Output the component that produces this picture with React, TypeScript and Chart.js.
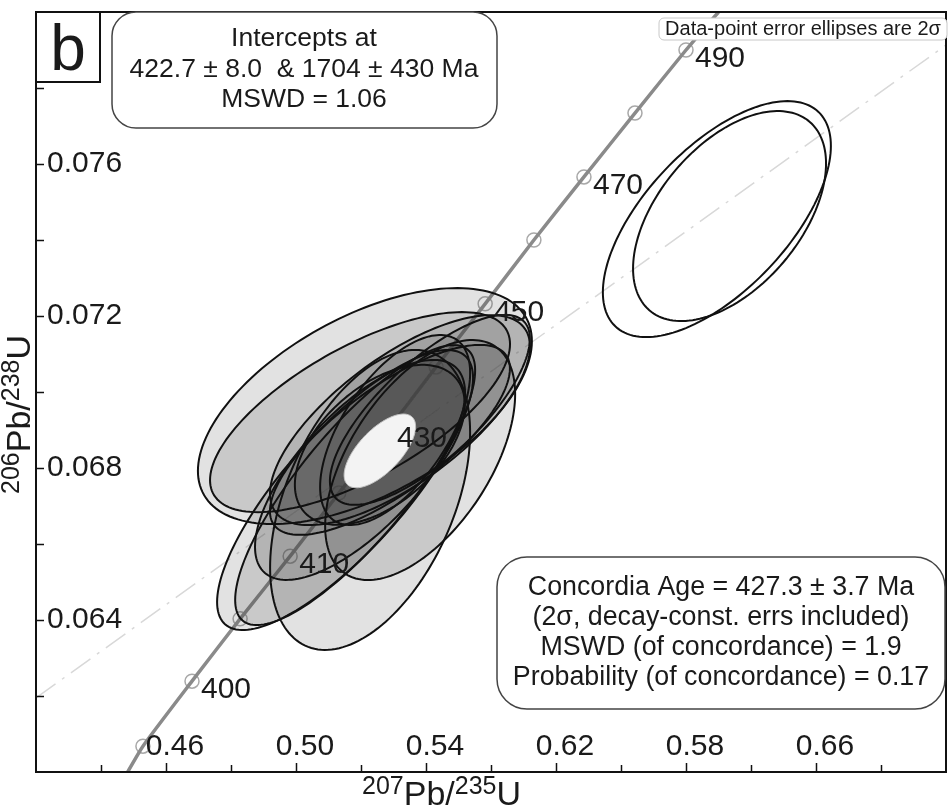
import React, { useEffect, useRef } from "react";
import { Chart, registerables } from "chart.js";

Chart.register(...registerables);

// ---------- axis ranges & ticks ----------
const xRange = [0.42, 0.7];
const yRange = [0.06, 0.08];
const xMajorTicks = [0.46, 0.5, 0.54, 0.58, 0.62, 0.66];
const xMajorLabels = ["0.46", "0.50", "0.54", "0.62", "0.58", "0.66"];
const xMinorTicks = [0.44, 0.48, 0.52, 0.56, 0.6, 0.64, 0.68];
const yMajorTicks = [0.064, 0.068, 0.072, 0.076];
const yMajorLabels = ["0.064", "0.068", "0.072", "0.076"];
const yMinorTicks = [0.062, 0.066, 0.07, 0.074, 0.078];

// ---------- concordia curve ----------
const concordiaX = [0.4482, 0.4529, 0.468, 0.4828, 0.4982, 0.5132, 0.5283, 0.5431, 0.5582, 0.5732, 0.5886, 0.6043, 0.62, 0.63];
const concordiaY = [0.06, 0.06068, 0.06239, 0.06403, 0.06568, 0.06734, 0.069, 0.07066, 0.07232, 0.074, 0.07566, 0.07734, 0.079, 0.08];

// concordia age markers
const markerX = [0.4529, 0.468, 0.4828, 0.4982, 0.5132, 0.5283, 0.5431, 0.5582, 0.5732, 0.5886, 0.6043, 0.62];
const markerY = [0.06068, 0.06239, 0.06403, 0.06568, 0.06734, 0.069, 0.07066, 0.07232, 0.074, 0.07566, 0.07734, 0.079];
const markerLabels = ["", "400", "", "410", "", "430", "", "450", "", "470", "", "490"];

// ---------- discordia (intercept) line ----------
const discordiaX = [0.42, 0.7];
const discordiaY = [0.06195, 0.07913];

// ---------- data-point error ellipses (2 sigma) ----------
const clusterX = [0.5212, 0.5197, 0.5151, 0.5182, 0.5228, 0.5382, 0.5289, 0.532, 0.5258, 0.5305, 0.5197, 0.5412];
const clusterY = [0.06963, 0.06947, 0.06742, 0.06755, 0.06716, 0.06821, 0.06874, 0.06926, 0.06861, 0.069, 0.06795, 0.06953];
const clusterSX = [0.05138, 0.04615, 0.03938, 0.03692, 0.03077, 0.02923, 0.03692, 0.04, 0.02615, 0.02308, 0.03231, 0.03077];
const clusterSY = [0.003105, 0.002632, 0.003684, 0.003684, 0.003947, 0.003158, 0.0025, 0.002763, 0.002105, 0.0025, 0.002895, 0.0025];
const clusterRho = [0.55, 0.68, 0.8, 0.82, 0.45, 0.55, 0.75, 0.7, 0.5, 0.6, 0.7, 0.75];

const outlierX = [0.6295, 0.6334];
const outlierY = [0.07455, 0.07463];
const outlierSX = [0.03508, 0.02969];
const outlierSY = [0.003105, 0.002763];
const outlierRho = [0.62, 0.5];

// concordia age ellipse
const ageEllipseX = [0.5258];
const ageEllipseY = [0.06845];
const ageEllipseSX = [0.011];
const ageEllipseSY = [0.00097];
const ageEllipseRho = [0.66];

// ---------- texts ----------
const panelLetter = "b";
const interceptLines = ["Intercepts at", "422.7 ± 8.0  & 1704 ± 430 Ma", "MSWD = 1.06"];
const concordiaLines = [
  "Concordia Age = 427.3 ± 3.7 Ma",
  "(2σ, decay-const. errs included)",
  "MSWD (of concordance) = 1.9",
  "Probability (of concordance) = 0.17",
];
const ellipseNote = "Data-point error ellipses are 2σ";
const xTitleParts: [string, boolean][] = [["207", true], ["Pb/", false], ["235", true], ["U", false]];
const yTitleParts: [string, boolean][] = [["206", true], ["Pb/", false], ["238", true], ["U", false]];

const FONT = "'Liberation Sans', Arial, Helvetica, sans-serif";

function zip(xs: number[], ys: number[]) {
  return xs.map((x, i) => ({ x, y: ys[i] }));
}

function ellipsePath(ctx: CanvasRenderingContext2D, xs: any, ys: any, cx: number, cy: number, sx: number, sy: number, rho: number) {
  const n = 160;
  const k = Math.sqrt(Math.max(0, 1 - rho * rho));
  ctx.beginPath();
  for (let i = 0; i <= n; i++) {
    const t = (i / n) * Math.PI * 2;
    const px = xs.getPixelForValue(cx + sx * Math.cos(t));
    const py = ys.getPixelForValue(cy + sy * (rho * Math.cos(t) + k * Math.sin(t)));
    if (i === 0) ctx.moveTo(px, py);
    else ctx.lineTo(px, py);
  }
  ctx.closePath();
}

function roundRect(ctx: CanvasRenderingContext2D, x: number, y: number, w: number, h: number, r: number) {
  ctx.beginPath();
  ctx.moveTo(x + r, y);
  ctx.lineTo(x + w - r, y);
  ctx.arcTo(x + w, y, x + w, y + r, r);
  ctx.lineTo(x + w, y + h - r);
  ctx.arcTo(x + w, y + h, x + w - r, y + h, r);
  ctx.lineTo(x + r, y + h);
  ctx.arcTo(x, y + h, x, y + h - r, r);
  ctx.lineTo(x, y + r);
  ctx.arcTo(x, y, x + r, y, r);
  ctx.closePath();
}

function drawSupText(ctx: CanvasRenderingContext2D, parts: [string, boolean][], x: number, y: number, main: number, sup: number, raise: number) {
  let cx = x;
  ctx.textBaseline = "alphabetic";
  ctx.textAlign = "left";
  for (const [t, isSup] of parts) {
    ctx.font = `${isSup ? sup : main}px ${FONT}`;
    ctx.fillText(t, cx, isSup ? y - raise : y);
    cx += ctx.measureText(t).width;
  }
}

const ellipsePlugin = {
  id: "ellipses",
  afterDatasetsDraw(chart: any) {
    const { ctx, chartArea, scales } = chart;
    const xs = scales.x;
    const ys = scales.y;
    ctx.save();
    ctx.beginPath();
    ctx.rect(chartArea.left, chartArea.top, chartArea.right - chartArea.left, chartArea.bottom - chartArea.top);
    ctx.clip();
    // filled cluster
    for (let i = 0; i < clusterX.length; i++) {
      ellipsePath(ctx, xs, ys, clusterX[i], clusterY[i], clusterSX[i], clusterSY[i], clusterRho[i]);
      ctx.fillStyle = "rgba(60,60,60,0.15)";
      ctx.fill();
    }
    for (let i = 0; i < clusterX.length; i++) {
      ellipsePath(ctx, xs, ys, clusterX[i], clusterY[i], clusterSX[i], clusterSY[i], clusterRho[i]);
      ctx.strokeStyle = "#111";
      ctx.lineWidth = 2;
      ctx.stroke();
    }
    // concordia age ellipse
    for (let i = 0; i < ageEllipseX.length; i++) {
      ellipsePath(ctx, xs, ys, ageEllipseX[i], ageEllipseY[i], ageEllipseSX[i], ageEllipseSY[i], ageEllipseRho[i]);
      ctx.fillStyle = "#f3f3f3";
      ctx.fill();
      ctx.strokeStyle = "#c4c4c4";
      ctx.lineWidth = 1;
      ctx.stroke();
    }
    // open ellipses
    for (let i = 0; i < outlierX.length; i++) {
      ellipsePath(ctx, xs, ys, outlierX[i], outlierY[i], outlierSX[i], outlierSY[i], outlierRho[i]);
      ctx.strokeStyle = "#111";
      ctx.lineWidth = 2;
      ctx.stroke();
    }
    ctx.restore();
  },
  afterDraw(chart: any) {
    const { ctx, chartArea, scales } = chart;
    const xs = scales.x;
    const ys = scales.y;
    const { left, right, top, bottom } = chartArea;
    ctx.save();

    // age labels along concordia
    ctx.fillStyle = "#1a1a1a";
    ctx.font = `30px ${FONT}`;
    ctx.textAlign = "left";
    ctx.textBaseline = "middle";
    for (let i = 0; i < markerX.length; i++) {
      if (!markerLabels[i]) continue;
      const px = xs.getPixelForValue(markerX[i]);
      const py = ys.getPixelForValue(markerY[i]);
      ctx.fillText(markerLabels[i], px + 9, py + 9);
    }

    // frame
    ctx.strokeStyle = "#111";
    ctx.lineWidth = 2;
    ctx.strokeRect(left, top, right - left, bottom - top);

    // ticks (inward)
    ctx.lineWidth = 1.5;
    ctx.beginPath();
    for (const v of xMajorTicks) {
      const px = Math.round(xs.getPixelForValue(v)) + 0.5;
      ctx.moveTo(px, bottom);
      ctx.lineTo(px, bottom - 9);
    }
    for (const v of xMinorTicks) {
      const px = Math.round(xs.getPixelForValue(v)) + 0.5;
      ctx.moveTo(px, bottom);
      ctx.lineTo(px, bottom - 7);
    }
    for (const v of yMajorTicks) {
      const py = Math.round(ys.getPixelForValue(v)) + 0.5;
      ctx.moveTo(left, py);
      ctx.lineTo(left + 8, py);
    }
    for (const v of yMinorTicks) {
      const py = Math.round(ys.getPixelForValue(v)) + 0.5;
      ctx.moveTo(left, py);
      ctx.lineTo(left + 8, py);
    }
    ctx.stroke();

    // tick labels (inside the frame)
    ctx.fillStyle = "#1a1a1a";
    ctx.font = `30px ${FONT}`;
    ctx.textAlign = "center";
    ctx.textBaseline = "alphabetic";
    xMajorTicks.forEach((v, i) => {
      ctx.fillText(xMajorLabels[i], xs.getPixelForValue(v) + 9, bottom - 17);
    });
    ctx.textAlign = "left";
    ctx.textBaseline = "middle";
    yMajorTicks.forEach((v, i) => {
      ctx.fillText(yMajorLabels[i], left + 11, ys.getPixelForValue(v));
    });

    // axis titles
    ctx.fillStyle = "#1a1a1a";
    drawSupText(ctx, xTitleParts, 362, 805, 34, 25, 11);
    ctx.save();
    ctx.translate(30, 494);
    ctx.rotate(-Math.PI / 2);
    drawSupText(ctx, yTitleParts, 0, 0, 34, 25, 11);
    ctx.restore();

    // panel letter box
    ctx.fillStyle = "#fff";
    ctx.fillRect(left, top, 64, 70);
    ctx.strokeStyle = "#111";
    ctx.lineWidth = 2;
    ctx.strokeRect(left, top, 64, 70);
    ctx.fillStyle = "#1a1a1a";
    ctx.font = `64px ${FONT}`;
    ctx.textAlign = "center";
    ctx.textBaseline = "alphabetic";
    ctx.fillText(panelLetter, left + 32, top + 58);

    // intercepts box
    roundRect(ctx, 112, 12, 385, 116, 24);
    ctx.fillStyle = "#fff";
    ctx.fill();
    ctx.strokeStyle = "#444";
    ctx.lineWidth = 1.5;
    ctx.stroke();
    ctx.fillStyle = "#1a1a1a";
    ctx.font = `26.5px ${FONT}`;
    ctx.textBaseline = "middle";
    interceptLines.forEach((t, i) => ctx.fillText(t, 304, 39 + i * 30.5));

    // concordia age box
    roundRect(ctx, 497, 557, 448, 152, 30);
    ctx.fillStyle = "#fff";
    ctx.fill();
    ctx.strokeStyle = "#444";
    ctx.lineWidth = 1.5;
    ctx.stroke();
    ctx.fillStyle = "#1a1a1a";
    ctx.font = `26.8px ${FONT}`;
    concordiaLines.forEach((t, i) => ctx.fillText(t, 721, 588 + i * 30));

    // ellipse note
    roundRect(ctx, 659, 18, 288, 22, 5);
    ctx.fillStyle = "#fff";
    ctx.fill();
    ctx.strokeStyle = "#c8c8c8";
    ctx.lineWidth = 1;
    ctx.stroke();
    ctx.fillStyle = "#1a1a1a";
    ctx.font = `20px ${FONT}`;
    ctx.fillText(ellipseNote, 803, 29.5);

    ctx.restore();
  },
};

export default function App() {
  const ref = useRef<HTMLCanvasElement | null>(null);
  useEffect(() => {
    document.body.style.margin = "0";
    const canvas = ref.current;
    if (!canvas) return;
    const chart = new Chart(canvas, {
      type: "scatter",
      data: {
        datasets: [
          {
            label: "discordia",
            data: zip(discordiaX, discordiaY),
            showLine: true,
            borderColor: "#d8d8d8",
            borderWidth: 1.5,
            borderDash: [24, 8, 3, 8],
            pointRadius: 0,
            fill: false,
          },
          {
            label: "concordia",
            data: zip(concordiaX, concordiaY),
            showLine: true,
            borderColor: "#8a8a8a",
            borderWidth: 3.5,
            pointRadius: 0,
            tension: 0.2,
            fill: false,
          },
          {
            label: "ages",
            data: zip(markerX, markerY),
            showLine: false,
            pointRadius: 7,
            pointBackgroundColor: "#ffffff",
            pointBorderColor: "#a8a8a8",
            pointBorderWidth: 1.5,
          },
        ],
      },
      options: {
        responsive: false,
        animation: false,
        devicePixelRatio: 1,
        layout: { autoPadding: false, padding: { left: 36, top: 12, right: 3, bottom: 35 } },
        plugins: { legend: { display: false }, tooltip: { enabled: false } },
        scales: {
          x: {
            type: "linear",
            display: false,
            min: xRange[0],
            max: xRange[1],
          },
          y: {
            type: "linear",
            display: false,
            min: yRange[0],
            max: yRange[1],
          },
        },
      },
      plugins: [ellipsePlugin],
    });
    return () => chart.destroy();
  }, []);
  return <canvas ref={ref} width={949} height={807} style={{ display: "block", width: 949, height: 807 }} />;
}
